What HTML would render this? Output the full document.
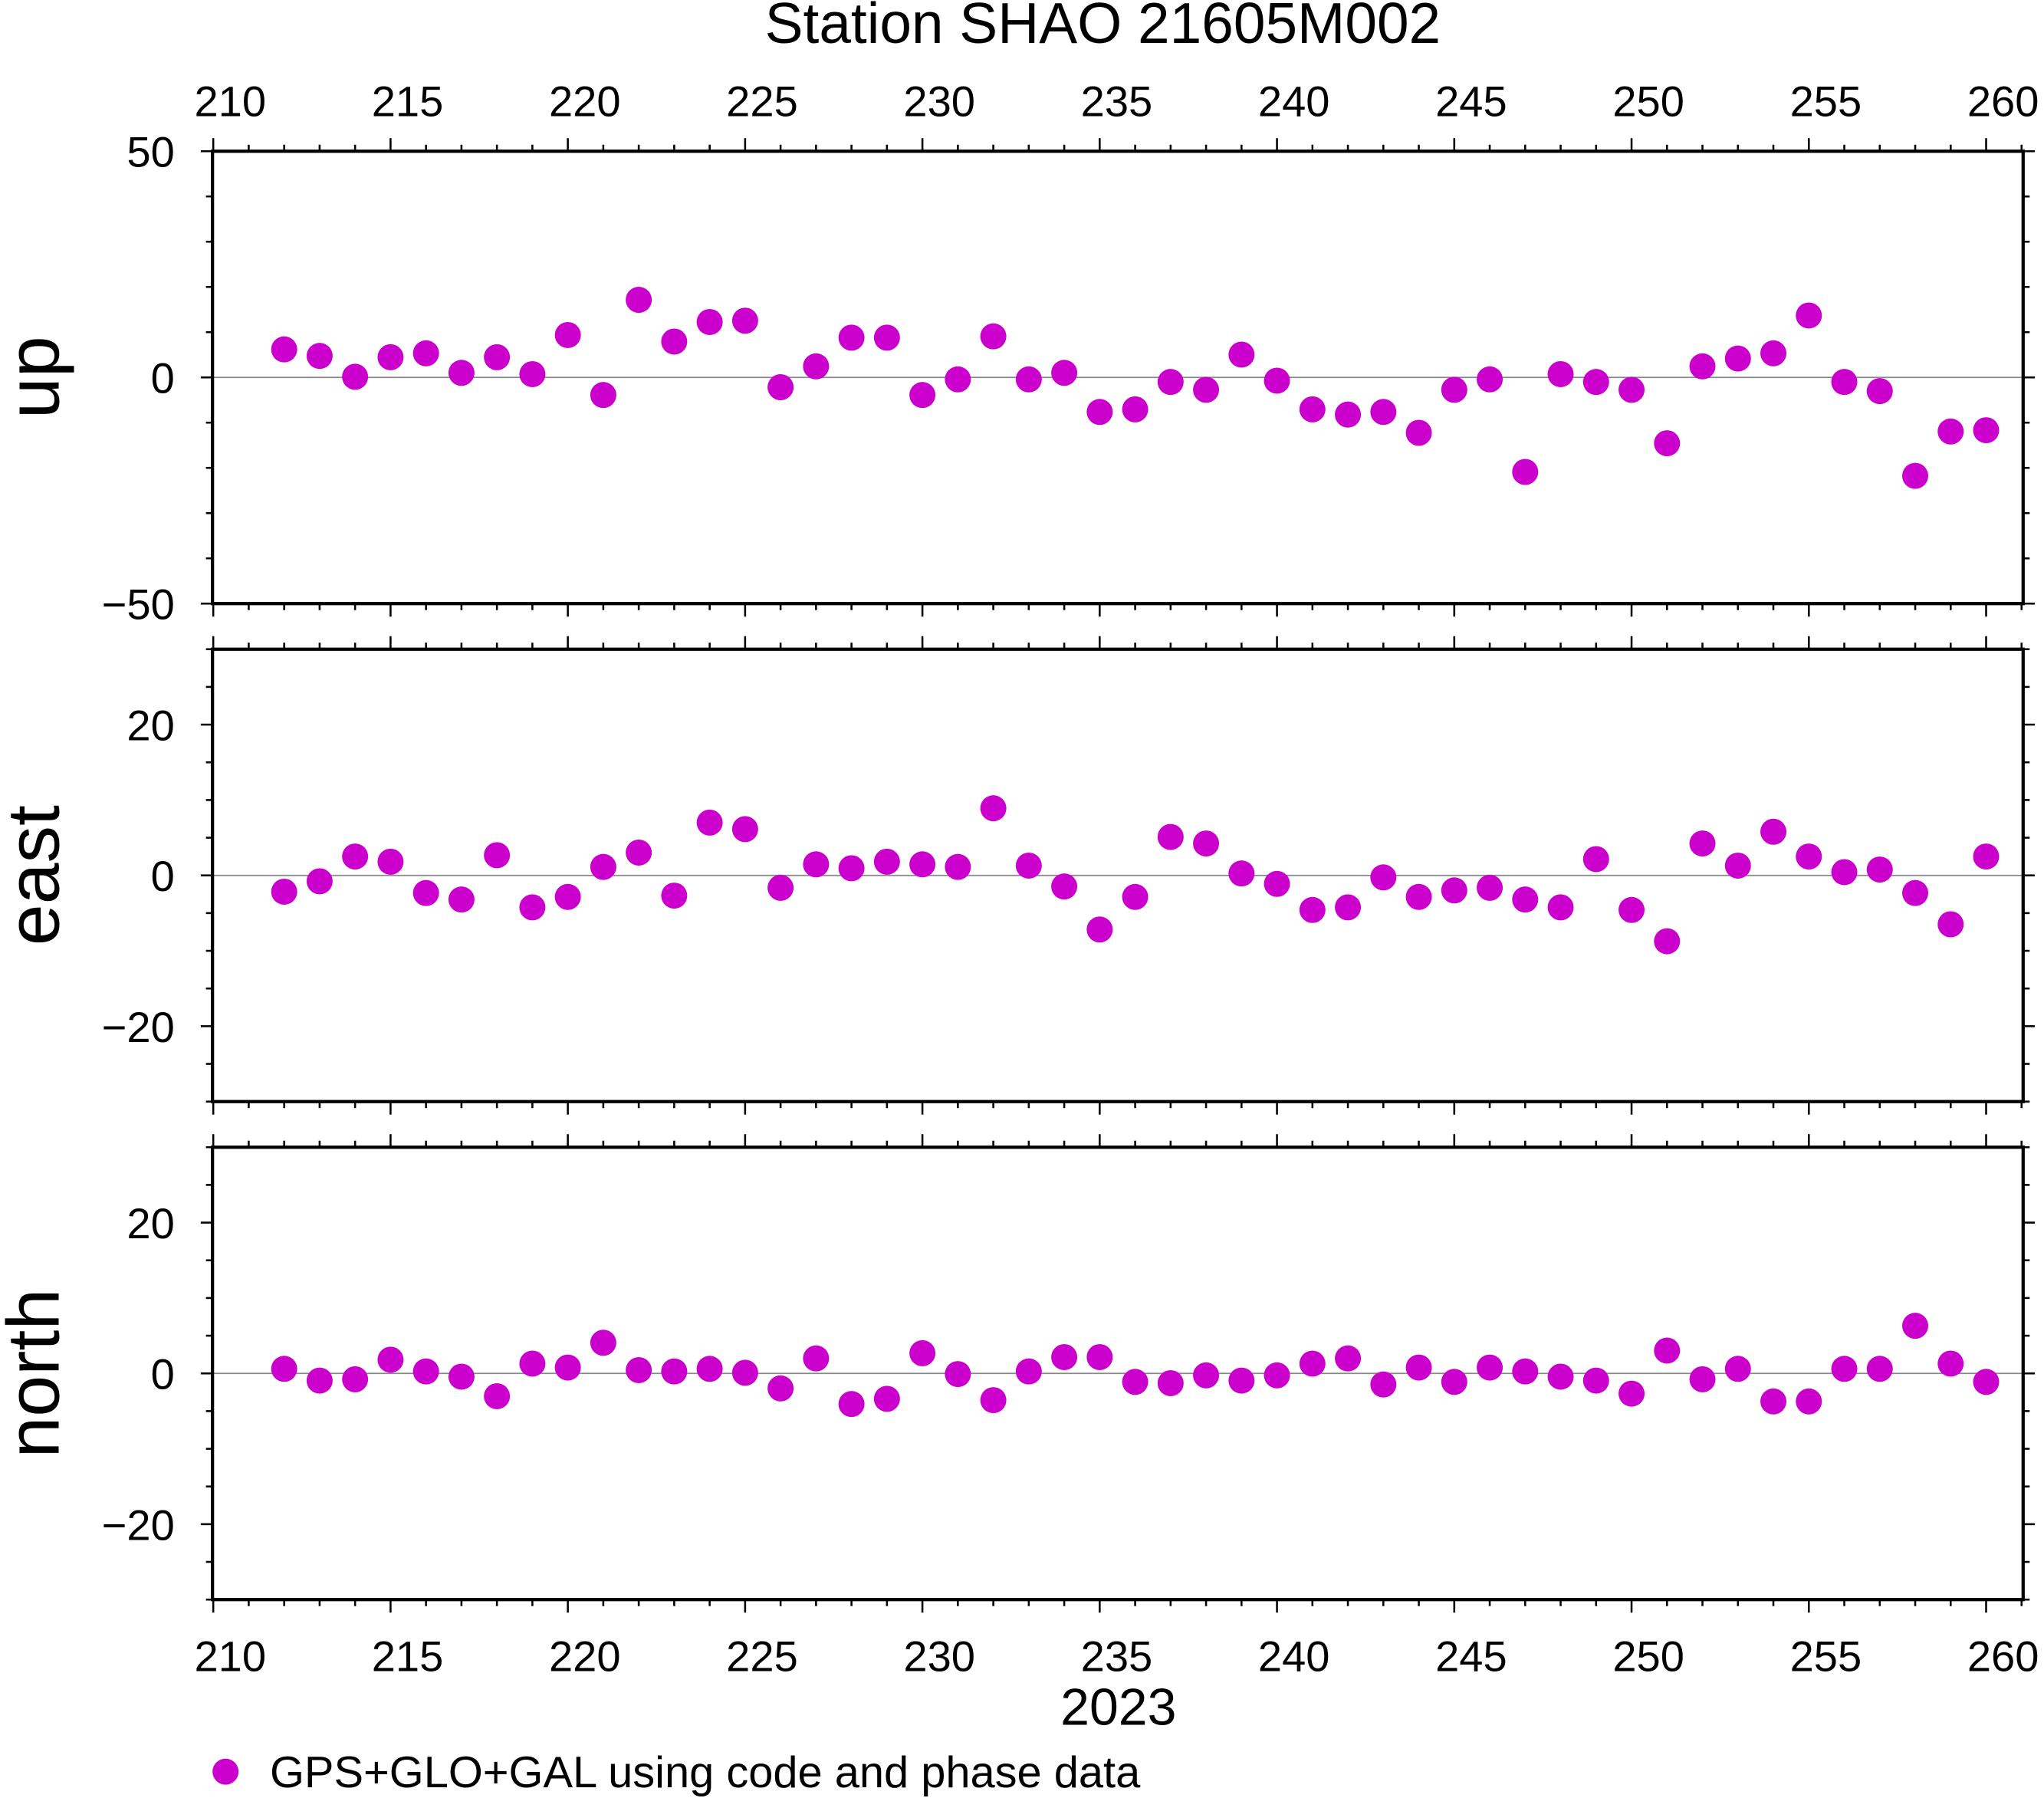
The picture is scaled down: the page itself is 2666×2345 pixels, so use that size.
<!DOCTYPE html>
<html><head><meta charset="utf-8"><style>html,body{margin:0;padding:0;background:#fff}svg{display:block}</style></head>
<body>
<svg id="s" width="2666" height="2345" viewBox="0 0 1568 1379.2" xmlns="http://www.w3.org/2000/svg" font-family="Liberation Sans, sans-serif">
<rect width="1568" height="1380" fill="#fff"/>
<text x="846" y="33" font-size="44" text-anchor="middle">Station SHAO 21605M002</text>
<g id="g"></g>
<text x="858" y="1323" font-size="40" text-anchor="middle">2023</text>
<circle cx="173" cy="1359" r="10" fill="#cc00cc"/>
<text x="207" y="1371" font-size="34">GPS+GLO+GAL using code and phase data</text>
</svg>
<script>
const NS="http://www.w3.org/2000/svg",g=document.getElementById('g');
function el(t,a,txt){const e=document.createElementNS(NS,t);for(const k in a)e.setAttribute(k,a[k]);if(txt!==undefined)e.textContent=txt;g.appendChild(e);return e;}
const X0=163,X1=1552,dx=27.2,xd=d=>163.6+(d-210)*dx;
const panels=[
 {top:116,bot:463,lab:'up',max:50,minor:10,major:50,labs:[50,0,-50],
  y:[268,273,289,274,271,286,274,287,257,303,230,262,247,246,297,281,259,259,303,291,258,291,286,316,314,293,299,272,292,314,318,316,332,299,291,362,287,293,299,340,281,275,271,242,293,300,365,331,330]},
 {top:498,bot:845,lab:'east',max:30,minor:5,major:20,labs:[20,0,-20],
  y:[684,676,657,661,685,690,656,696,688,665,654,687,631,636,681,663,666,661,663,665,620,664,680,713,688,642,647,670,678,698,696,673,688,683,681,690,696,659,698,722,647,664,638,657,669,667,685,709,657]},
 {top:880,bot:1227,lab:'north',max:30,minor:5,major:20,labs:[20,0,-20],
  y:[1050,1059,1058,1043,1052,1056,1071,1046,1049,1030,1051,1052,1050,1053,1065,1042,1077,1073,1038,1054,1074,1052,1041,1041,1060,1061,1055,1059,1055,1046,1042,1062,1049,1060,1049,1052,1056,1059,1069,1036,1058,1050,1075,1075,1050,1050,1017,1046,1060]}
];
panels.forEach((p,pi)=>{
 const h=p.bot-p.top,yv=v=>p.top+(p.max-v)/(2*p.max)*h,mid=(p.top+p.bot)/2;
 el('line',{x1:X0,x2:X1,y1:yv(0),y2:yv(0),stroke:'#888','stroke-width':1});
 for(let v=-p.max;v<=p.max;v+=p.minor){const y=yv(v),maj=p.labs.includes(v);
  el('line',{x1:X0-(maj?9:5),x2:X0,y1:y,y2:y,stroke:'#000','stroke-width':1.5});
  el('line',{x1:X1,x2:X1+(maj?9:5),y1:y,y2:y,stroke:'#000','stroke-width':1.5});}
 p.labs.forEach(v=>el('text',{x:X0-29,y:yv(v)+12,'font-size':33,'text-anchor':'end'},v<0?'\u2212'+(-v):''+v));
 for(let d=210;d<=261;d++){const x=xd(d),maj=d%5==0;
  el('line',{x1:x,x2:x,y1:p.top-(maj?10:5),y2:p.top,stroke:'#000','stroke-width':1.5});
  el('line',{x1:x,x2:x,y1:p.bot,y2:p.bot+(maj?10:5),stroke:'#000','stroke-width':1.5});}
 el('rect',{x:X0,y:p.top,width:X1-X0,height:h,fill:'none',stroke:'#000','stroke-width':2.5});
 el('text',{x:0,y:0,'font-size':57,'text-anchor':'middle',transform:`translate(45,${mid}) rotate(-90)`},p.lab);
 p.y.forEach((y,i)=>el('circle',{cx:218+i*dx,cy:y,r:10,fill:'#cc00cc'}));
});
for(let d=210;d<=260;d+=5){
 el('text',{x:xd(d)+13,y:89,'font-size':33,'text-anchor':'middle'},''+d);
 el('text',{x:xd(d)+13,y:1282,'font-size':33,'text-anchor':'middle'},''+d);
}
</script>
</body></html>
